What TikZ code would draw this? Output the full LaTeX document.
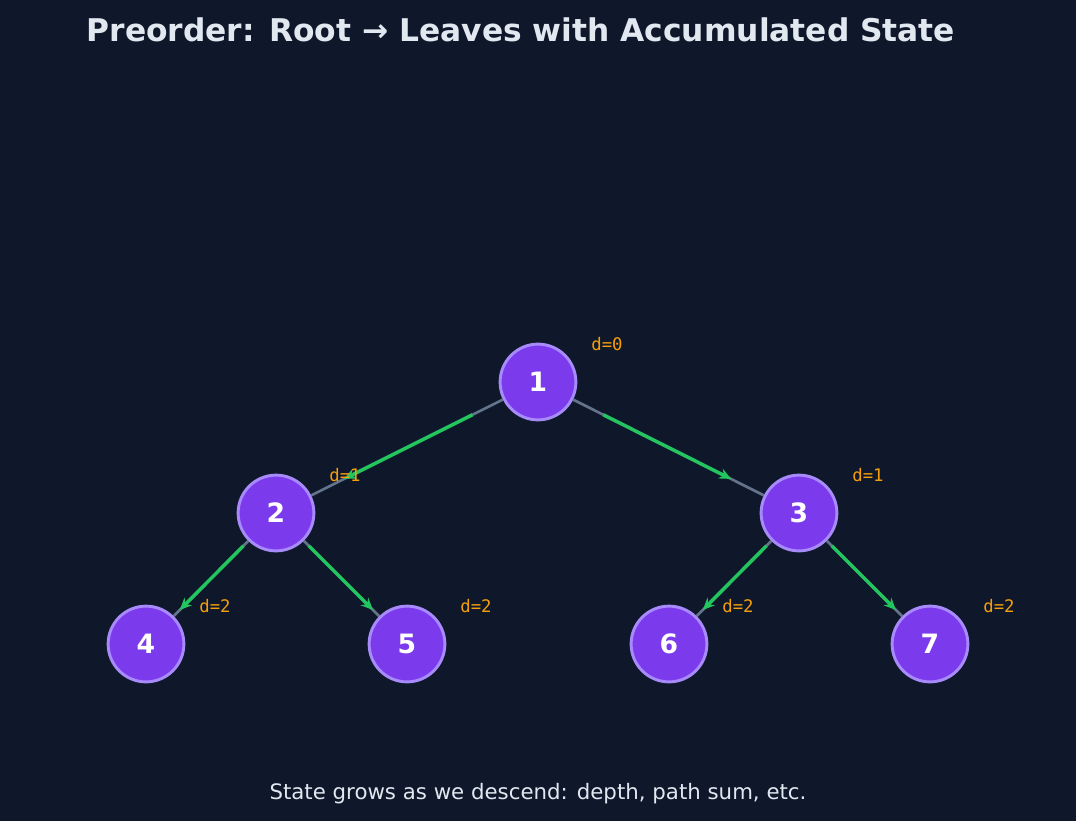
\documentclass[tikz,border=0pt]{standalone}
\usepackage{fontspec}
\setmainfont{DejaVu Sans}
\newfontfamily\monofont{DejaVu Sans Mono}
\usetikzlibrary{positioning,calc,arrows.meta}
\definecolor{bgdark}{HTML}{0F172A}
\definecolor{nodefill}{HTML}{7C3AED}
\definecolor{noderim}{HTML}{A78BFA}
\definecolor{edgegray}{HTML}{64748B}
\definecolor{stepgreen}{HTML}{22C55E}
\definecolor{deptag}{HTML}{F59E0B}
\definecolor{lighttext}{HTML}{E2E8F0}
\begin{document}
\begin{tikzpicture}[
		x=0.0264cm, y=-0.0264cm,
		treenode/.style={circle, draw=noderim, fill=nodefill, line width=2.2pt, minimum size=2.0cm, inner sep=0pt, text=white, font=\fontsize{20}{24}\selectfont\bfseries},
		treeedge/.style={draw=edgegray, line width=2pt},
		descend/.style={draw=stepgreen, line width=2.6pt, -{Stealth[length=9pt,width=8pt]}},
		depthtag/.style={text=deptag, font=\monofont\fontsize{13}{15}\selectfont}
	]
	\fill[bgdark] (0,0) rectangle (1076,821);
	\useasboundingbox (0,0) rectangle (1076,821);

	\node (title) at (521,30) [text=lighttext, font=\fontsize{23.5}{28}\selectfont\bfseries] {Preorder: Root → Leaves with Accumulated State};
	\node (footer) at (538,794) [text=lighttext, font=\fontsize{16}{19}\selectfont] {State grows as we descend: depth, path sum, etc.};

	% tree
	\node (n1) at (538,382) [treenode] {1};
	\node (n2) at (276,513) [treenode] {2};
	\node (n3) at (799,513) [treenode] {3};
	\node (n4) at (146,644) [treenode] {4};
	\node (n5) at (407,644) [treenode] {5};
	\node (n6) at (669,644) [treenode] {6};
	\node (n7) at (930,644) [treenode] {7};

	\foreach \p/\c in {n1/n2, n1/n3, n2/n4, n2/n5, n3/n6, n3/n7} {
		\draw [treeedge] (\p) -- (\c);
		\draw [descend] ($(\p)!0.25!(\c)$) -- ($(\p)!0.74!(\c)$);
	}

	% depth tags
	\foreach \n/\d in {n1/0, n2/1, n3/1, n4/2, n5/2, n6/2, n7/2} {
		\node [depthtag] at ($(\n)+(69,-38)$) {d=\d};
	}
\end{tikzpicture}
\end{document}
